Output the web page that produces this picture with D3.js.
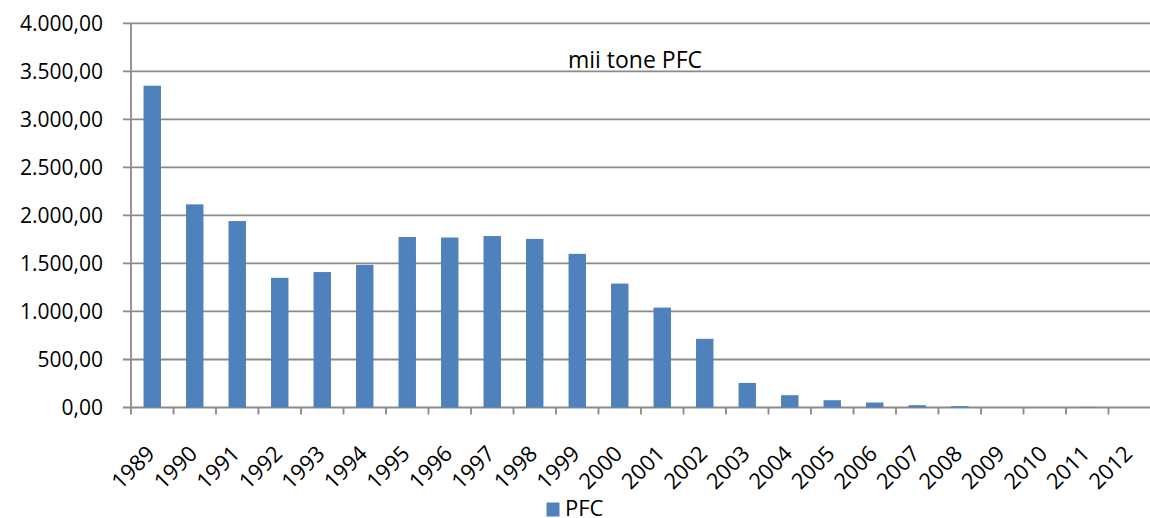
<html>
<head>
<meta charset="utf-8">
<script src="https://d3js.org/d3.v7.min.js"></script>
<style>
  body { margin: 0; background: #fff; }
  text { font-family: "Open Sans", "Noto Sans", sans-serif; fill: #000; }
</style>
</head>
<body>
<svg id="chart" width="1150" height="518"></svg>
<script>
// data
let years = ["1989","1990","1991","1992","1993","1994","1995","1996","1997","1998","1999","2000",
             "2001","2002","2003","2004","2005","2006","2007","2008","2009","2010","2011","2012"];
let pfc = [3350, 2115, 1941, 1350, 1410, 1485, 1775, 1770, 1785, 1755, 1600, 1290,
           1040, 715, 256, 128, 76, 52, 24, 14, 0, 0, 6, 0];
let yTicks = [0, 500, 1000, 1500, 2000, 2500, 3000, 3500, 4000];
let seriesName = "PFC";
let title = "mii tone PFC";

let plotLeft = 131, plotRight = 1151, plotTop = 23.3, plotBottom = 407.5;
let svg = d3.select("#chart");

let x = d3.scaleBand().domain(years).range([plotLeft, plotRight]).paddingInner(0.59).paddingOuter(0.295);
let xb = d3.scaleBand().domain(years).range([plotLeft, plotRight]);
let y = d3.scaleLinear().domain([0, 4000]).range([plotBottom, plotTop]);

// 1.234,00 style
let fmt = v => d3.format(",.2f")(v).replace(/,/g, "X").replace(".", ",").replace(/X/g, ".");

// gridlines
svg.append("g").selectAll("line").data(yTicks).enter().append("line")
  .attr("x1", plotLeft - 8).attr("x2", plotRight)
  .attr("y1", d => y(d)).attr("y2", d => y(d))
  .attr("stroke", "#8a8a8a").attr("stroke-width", 1.8);

// y labels
svg.append("g").selectAll("text").data(yTicks).enter().append("text")
  .attr("x", 103).attr("y", d => y(d) + 7.5)
  .attr("text-anchor", "end").attr("font-size", 21)
  .text(fmt);

// bars
svg.append("g").selectAll("rect").data(pfc).enter().append("rect")
  .attr("x", (d, i) => x(years[i]))
  .attr("width", x.bandwidth())
  .attr("y", d => y(d))
  .attr("height", d => plotBottom - y(d))
  .attr("fill", "#4f81bd");

// y axis line
svg.append("line").attr("x1", plotLeft).attr("x2", plotLeft).attr("y1", plotTop).attr("y2", plotBottom + 7)
  .attr("stroke", "#8a8a8a").attr("stroke-width", 1.8);

// x ticks
svg.append("g").selectAll("line").data(years).enter().append("line")
  .attr("x1", d => xb(d) + xb.bandwidth()).attr("x2", d => xb(d) + xb.bandwidth())
  .attr("y1", plotBottom).attr("y2", plotBottom + 7)
  .attr("stroke", "#8a8a8a").attr("stroke-width", 1.8);

// x labels
svg.append("g").selectAll("text").data(years).enter().append("text")
  .attr("transform", d => "translate(" + (xb(d) + xb.bandwidth() / 2 + 4) + ",455) rotate(-45)")
  .attr("text-anchor", "end").attr("font-size", 22)
  .text(d => d);

// title
svg.append("text").attr("x", 635).attr("y", 68).attr("text-anchor", "middle")
  .attr("font-size", 23).text(title);

// legend
svg.append("rect").attr("x", 546.5).attr("y", 502.5).attr("width", 13).attr("height", 14).attr("fill", "#4f81bd");
svg.append("text").attr("x", 565).attr("y", 516).attr("font-size", 22).text(seriesName);
</script>
</body>
</html>
